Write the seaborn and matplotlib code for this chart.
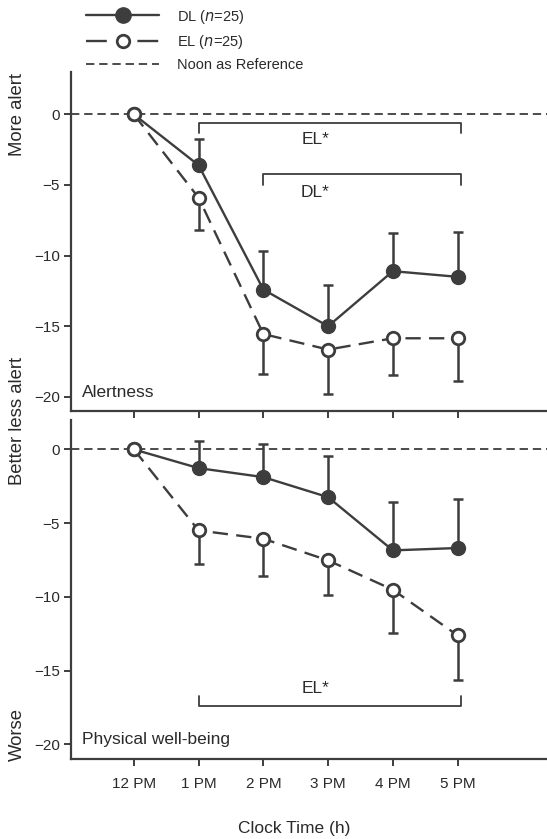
import numpy as np
import pandas as pd
import seaborn as sns
import matplotlib.pyplot as plt
from matplotlib.lines import Line2D

# values (change from noon)
hours = [0, 1, 2, 3, 4, 5]
hour_labels = ['12 PM', '1 PM', '2 PM', '3 PM', '4 PM', '5 PM']

alert_dl = [0, -3.6, -12.4, -15.0, -11.1, -11.5]
alert_dl_err = [0, 1.85, 2.7, 2.95, 2.7, 3.15]
alert_el = [0, -5.9, -15.55, -16.65, -15.85, -15.85]
alert_el_err = [0, 2.3, 2.8, 3.15, 2.6, 3.05]

wellb_dl = [0, -1.27, -1.88, -3.24, -6.85, -6.69]
wellb_dl_err = [0, 1.83, 2.26, 2.77, 3.28, 3.34]
wellb_el = [0, -5.5, -6.06, -7.53, -9.52, -12.62]
wellb_el_err = [0, 2.3, 2.5, 2.37, 2.94, 3.05]

# significance brackets: (start, end, y, tick direction, label, label y)
alert_brackets = [(1, 5.05, -0.6, -0.7, 'EL*', -1.75),
                  (2, 5.05, -4.2, -0.8, 'DL*', -5.5)]
wellb_brackets = [(1, 5.05, -17.4, 0.65, 'EL*', -16.25)]

sns.set_style('ticks')
plt.rcParams['font.family'] = ['Liberation Sans', 'DejaVu Sans']
plt.rcParams['lines.scale_dashes'] = False

ink = '#3d3d3d'
txt = '#2a2a2a'
lw = 1.7
el_dash = (0, (11, 6))
ref_dash = (0, (6, 3.5))

fig = plt.figure(figsize=(5.47, 8.39), dpi=100)
ax1 = fig.add_axes([0.1298, 0.5101, 0.8702, 0.4041])
ax2 = fig.add_axes([0.1298, 0.0954, 0.8702, 0.4041])


def draw_panel(ax, dl, dl_err, el, el_err, brackets, title, ylim):
    ax.axhline(0, color=ink, lw=1.3, linestyle=ref_dash, zorder=1)
    # DL error bars go up, EL error bars go down
    ax.errorbar(hours[1:], dl[1:], yerr=[np.zeros(5), dl_err[1:]], fmt='none',
                ecolor=ink, elinewidth=1.8, capsize=3.8, capthick=1.8, zorder=2)
    ax.errorbar(hours[1:], el[1:], yerr=[el_err[1:], np.zeros(5)], fmt='none',
                ecolor=ink, elinewidth=1.8, capsize=3.8, capthick=1.8, zorder=2)
    df = pd.DataFrame({'hour': hours, 'DL': dl, 'EL': el})
    sns.lineplot(data=df, x='hour', y='DL', ax=ax, color=ink, lw=lw,
                 marker='o', markersize=10, markerfacecolor=ink,
                 markeredgecolor=ink, markeredgewidth=1, zorder=3)
    sns.lineplot(data=df, x='hour', y='EL', ax=ax, color=ink, lw=lw,
                 linestyle=el_dash, marker='o', markersize=9,
                 markerfacecolor='white', markeredgecolor=ink,
                 markeredgewidth=2, zorder=4)
    for x0, x1, y, d, lab, ly in brackets:
        ax.plot([x0, x0, x1, x1], [y + d, y, y, y + d], color=ink, lw=1.3,
                zorder=2)
        ax.text(2.8, ly, lab, ha='center', va='center', fontsize=12.5,
                color=txt)
    ax.text(-0.8, ylim[0] + 1.3, title, ha='left', va='center',
            fontsize=12.5, color=txt)
    ax.set_xlim(-0.97, 6.38)
    ax.set_ylim(*ylim)
    ax.set_yticks([0, -5, -10, -15, -20])
    ax.set_yticklabels(['0', '\u22125', '\u221210', '\u221215', '\u221220'])
    ax.set_xticks(hours)
    ax.set_xlabel('')
    ax.set_ylabel('')
    sns.despine(ax=ax)
    for s in ['left', 'bottom']:
        ax.spines[s].set_color(ink)
        ax.spines[s].set_linewidth(1.6)
    ax.tick_params(colors=ink, labelcolor=txt, labelsize=11, width=1.4,
                   length=5, pad=3)


draw_panel(ax1, alert_dl, alert_dl_err, alert_el, alert_el_err,
           alert_brackets, 'Alertness', (-21, 3))
draw_panel(ax2, wellb_dl, wellb_dl_err, wellb_el, wellb_el_err,
           wellb_brackets, 'Physical well-being', (-21, 2))
ax1.set_xticklabels([])
ax2.set_xticklabels(hour_labels)
ax2.tick_params(axis='x', pad=8)

fig.text(0.538, 0.013, 'Clock Time (h)', ha='center', va='center',
         fontsize=12.5, color=txt)
fig.text(0.032, 0.863, 'More alert', rotation=90, ha='center',
         va='center', fontsize=13.3, color=txt)
fig.text(0.032, 0.498, 'Better less alert', rotation=90, ha='center',
         va='center', fontsize=13.3, color=txt)
fig.text(0.032, 0.125, 'Worse', rotation=90, ha='center', va='center',
         fontsize=13.3, color=txt)

handles = [
    Line2D([], [], color=ink, lw=lw, marker='o', markersize=11,
           markerfacecolor=ink, markeredgecolor=ink),
    Line2D([], [], color=ink, lw=lw, linestyle=(0, (15, 22)), marker='o',
           markersize=9, markerfacecolor='white', markeredgecolor=ink,
           markeredgewidth=2),
    Line2D([], [], color=ink, lw=1.3, linestyle=ref_dash),
]
labels = ['DL ($n$=25)', 'EL ($n$=25)', 'Noon as Reference']
fig.legend(handles, labels, loc='upper left', bbox_to_anchor=(0.158, 0.991),
           frameon=False, fontsize=10.5, handlelength=5.0,
           handletextpad=1.2, labelspacing=0.5, borderpad=0,
           borderaxespad=0, labelcolor=txt)

fig.savefig('out.png', dpi=100)
